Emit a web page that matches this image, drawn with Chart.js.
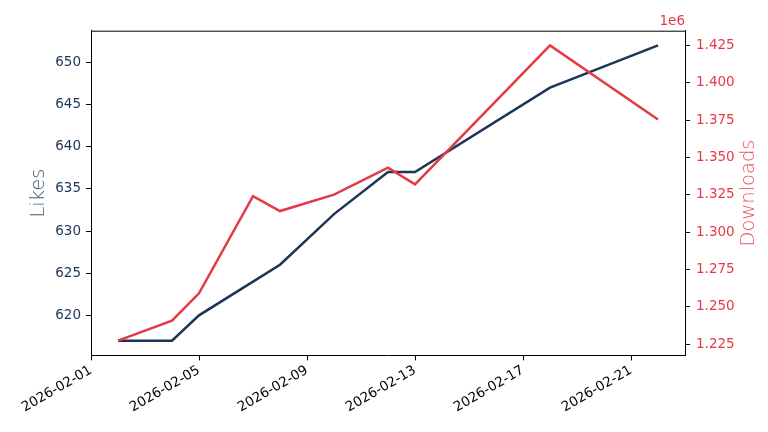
<!DOCTYPE html>
<html>
<head>
<meta charset="utf-8">
<script src="https://cdn.jsdelivr.net/npm/chart.js@4"></script>
<style>
  html, body { margin: 0; padding: 0; background: #fff; }
  #wrap { width: 768px; height: 432px; }
</style>
</head>
<body>
<div id="wrap"><canvas id="chart" width="768" height="432"></canvas></div>
<script>
// Data
const dates = ["2026-02-02", "2026-02-04", "2026-02-05", "2026-02-07", "2026-02-08",
               "2026-02-10", "2026-02-12", "2026-02-13", "2026-02-18", "2026-02-22"];
const likes = [617, 617, 620, 624, 626, 632, 637, 637, 647, 652];
const downloads = [1227300, 1240700, 1259000, 1324000, 1314100, 1325100, 1343200, 1332000, 1425000, 1375400];

const dateTicks = ["2026-02-01", "2026-02-05", "2026-02-09", "2026-02-13", "2026-02-17", "2026-02-21"];
const likesTicks = [620, 625, 630, 635, 640, 645, 650];
const downloadTicks = [1225000, 1250000, 1275000, 1300000, 1325000, 1350000, 1375000, 1400000, 1425000];

const NAVY = "#1d3557";
const RED = "#e63946";
const FONT = "'DejaVu Sans', sans-serif";
const TICK_SIZE = 13.5;

// dates become day numbers from 2026-02-01 so a linear axis can hold them
const DAY0 = Date.UTC(2026, 1, 1);
function toDay(s) {
  const p = s.split("-").map(Number);
  return (Date.UTC(p[0], p[1] - 1, p[2]) - DAY0) / 86400000;
}
function fromDay(d) {
  return new Date(DAY0 + d * 86400000).toISOString().slice(0, 10);
}

// matplotlib style 5% margins
function padRange(arr) {
  const lo = Math.min(...arr), hi = Math.max(...arr);
  const m = (hi - lo) * 0.05;
  return [lo - m, hi + m];
}
const days = dates.map(toDay);
const xr = padRange(days);
const lr = padRange(likes);
const dr = padRange(downloads);

// top spine, offset text and the right-hand label (reads bottom to top like the left one)
const frame = {
  id: "frame",
  afterDraw(chart) {
    const { ctx, chartArea: a } = chart;
    ctx.save();
    ctx.strokeStyle = "#000";
    ctx.lineWidth = 1;
    ctx.beginPath();
    ctx.moveTo(a.left, a.top + 0.5);
    ctx.lineTo(a.right, a.top + 0.5);
    ctx.stroke();
    ctx.fillStyle = RED;
    ctx.font = TICK_SIZE + "px " + FONT;
    ctx.textAlign = "right";
    ctx.textBaseline = "alphabetic";
    ctx.fillText("1e6", a.right, a.top - 6);

    ctx.translate(749, (a.top + a.bottom) / 2);
    ctx.rotate(-Math.PI / 2);
    ctx.fillStyle = "rgba(230,57,70,0.85)";
    ctx.font = "200 19.5px " + FONT;
    ctx.textAlign = "center";
    ctx.textBaseline = "middle";
    ctx.fillText("Downloads", 0, 0);
    ctx.restore();
  }
};

const tickGrid = { drawOnChartArea: false, drawTicks: true, tickLength: 5, color: "#000" };
const border = { display: true, color: "#000", width: 1 };

new Chart(document.getElementById("chart").getContext("2d"), {
  type: "line",
  data: {
    datasets: [
      {
        label: "Downloads",
        data: days.map((d, i) => ({ x: d, y: downloads[i] })),
        yAxisID: "y2",
        borderColor: RED,
        borderWidth: 2.5,
        pointRadius: 0,
        tension: 0,
        order: 0
      },
      {
        label: "Likes",
        data: days.map((d, i) => ({ x: d, y: likes[i] })),
        yAxisID: "y",
        borderColor: NAVY,
        borderWidth: 2.5,
        pointRadius: 0,
        tension: 0,
        order: 1
      }
    ]
  },
  options: {
    responsive: false,
    animation: false,
    layout: { padding: { top: 30.7, left: 0, right: 0, bottom: 0 } },
    plugins: {
      legend: { display: false },
      tooltip: { enabled: false }
    },
    scales: {
      x: {
        type: "linear",
        min: xr[0],
        max: xr[1],
        grid: tickGrid,
        border: border,
        afterBuildTicks: (s) => { s.ticks = dateTicks.map((t) => ({ value: toDay(t) })); },
        afterFit: (s) => { s.height = 432 - 355.4; },
        ticks: {
          color: "#000",
          font: { family: FONT, size: TICK_SIZE },
          padding: 2,
          minRotation: 30,
          maxRotation: 30,
          callback: (v) => fromDay(v)
        }
      },
      y: {
        position: "left",
        min: lr[0],
        max: lr[1],
        grid: tickGrid,
        border: border,
        afterBuildTicks: (s) => { s.ticks = likesTicks.map((v) => ({ value: v })); },
        afterFit: (s) => { s.width = 91; },
        ticks: {
          color: NAVY,
          font: { family: FONT, size: TICK_SIZE },
          padding: 5
        },
        title: {
          display: true,
          text: "Likes",
          color: "rgba(29,53,87,0.85)",
          font: { family: FONT, size: 19.5, weight: 200 },
          padding: { top: 27, bottom: 0 }
        }
      },
      y2: {
        position: "right",
        min: dr[0],
        max: dr[1],
        grid: tickGrid,
        border: border,
        afterBuildTicks: (s) => { s.ticks = downloadTicks.map((v) => ({ value: v })); },
        afterFit: (s) => { s.width = 768 - 685; },
        ticks: {
          color: RED,
          font: { family: FONT, size: TICK_SIZE },
          padding: 6,
          callback: (v) => (v / 1e6).toFixed(3)
        }
      }
    }
  },
  plugins: [frame]
});
</script>
</body>
</html>
